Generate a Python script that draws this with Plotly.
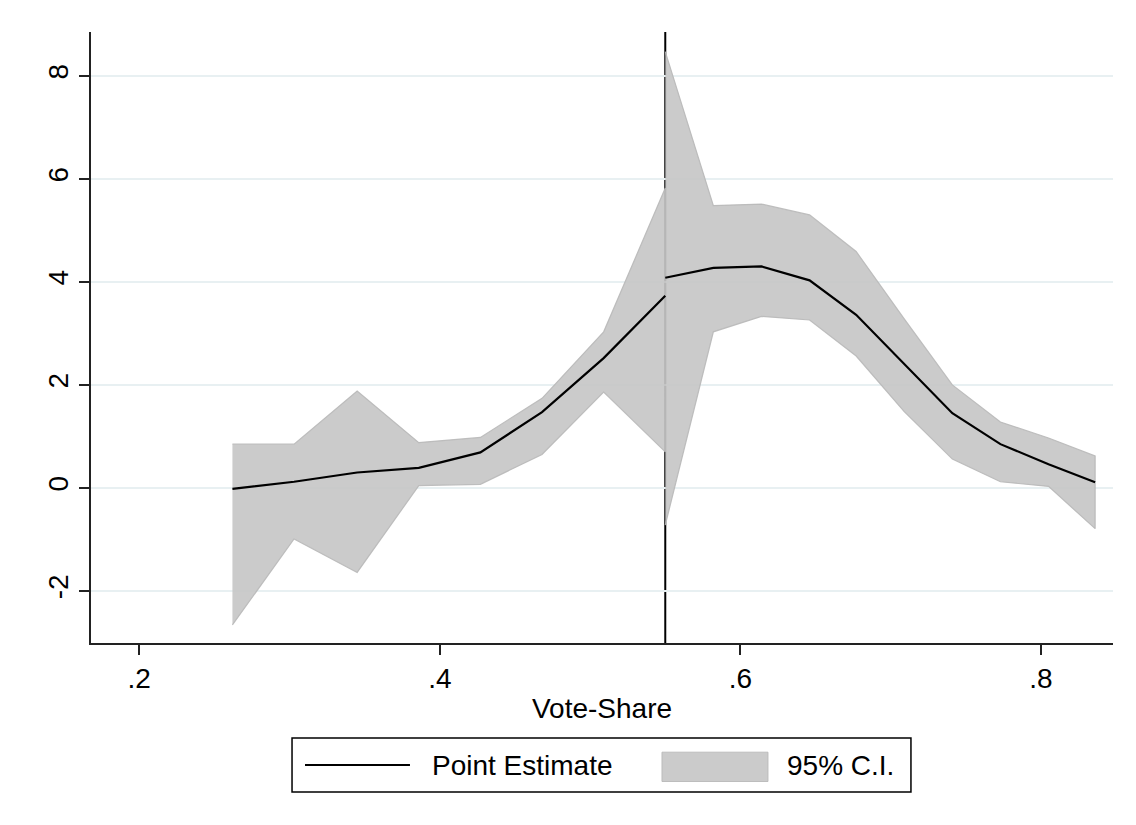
import plotly.graph_objects as go

# Vote-share bins below and above the 0.55 threshold
x_left = [0.262, 0.303, 0.345, 0.386, 0.427, 0.468, 0.509, 0.55]
est_left = [-0.02, 0.12, 0.30, 0.39, 0.69, 1.47, 2.52, 3.73]
hi_left = [0.85, 0.85, 1.88, 0.88, 0.98, 1.74, 3.03, 5.82]
lo_left = [-2.66, -0.99, -1.64, 0.045, 0.07, 0.65, 1.86, 0.70]

x_right = [0.55, 0.582, 0.614, 0.646, 0.677, 0.709, 0.741, 0.773, 0.805, 0.836]
est_right = [4.08, 4.27, 4.30, 4.03, 3.36, 2.41, 1.45, 0.85, 0.46, 0.11]
hi_right = [8.47, 5.48, 5.51, 5.30, 4.59, 3.28, 2.00, 1.28, 0.97, 0.62]
lo_right = [-0.72, 3.03, 3.33, 3.26, 2.56, 1.48, 0.56, 0.12, 0.03, -0.79]

threshold = 0.55

x_ticks = [0.2, 0.4, 0.6, 0.8]
x_ticktext = [".2", ".4", ".6", ".8"]
y_ticks = [-2, 0, 2, 4, 6, 8]
y_ticktext = ["-2", "0", "2", "4", "6", "8"]

legend_labels = ["Point Estimate", "95% C.I."]

FONT = "Liberation Sans, Arial, sans-serif"
BAND_FILL = "rgba(197,197,197,0.9)"
BAND_EDGE = "rgba(184,184,184,0.9)"

fig = go.Figure()

# confidence bands, one polygon on each side of the threshold
for xs, hi, lo in [(x_left, hi_left, lo_left), (x_right, hi_right, lo_right)]:
    fig.add_trace(go.Scatter(
        x=xs + xs[::-1], y=hi + lo[::-1],
        fill="toself", fillcolor=BAND_FILL,
        line=dict(color=BAND_EDGE, width=1.2),
        mode="lines", hoverinfo="skip", showlegend=False,
    ))

# point estimates
for xs, est in [(x_left, est_left), (x_right, est_right)]:
    fig.add_trace(go.Scatter(
        x=xs, y=est, mode="lines",
        line=dict(color="black", width=2.2),
        showlegend=False,
    ))

# threshold line, beneath the bands
fig.add_shape(type="line", xref="x", yref="y domain",
              x0=threshold, x1=threshold, y0=0, y1=1,
              line=dict(color="black", width=2), layer="below")

# legend drawn as a framed box below the axis title
fig.add_shape(type="rect", xref="paper", yref="paper",
              x0=0.1967, x1=0.8023, y0=-0.2439, y1=-0.1555,
              line=dict(color="black", width=1.5), fillcolor="white")
fig.add_shape(type="line", xref="paper", yref="paper",
              x0=0.2094, x1=0.3121, y0=-0.1997, y1=-0.1997,
              line=dict(color="black", width=2))
fig.add_shape(type="rect", xref="paper", yref="paper",
              x0=0.5587, x1=0.6624, y0=-0.2267, y1=-0.1787,
              line=dict(color=BAND_EDGE, width=1), fillcolor=BAND_FILL)
fig.add_annotation(xref="paper", yref="paper", x=0.3317, y=-0.1997,
                   xanchor="left", yanchor="middle", showarrow=False,
                   text=legend_labels[0], font=dict(size=28, color="black", family=FONT))
fig.add_annotation(xref="paper", yref="paper", x=0.6795, y=-0.1997,
                   xanchor="left", yanchor="middle", showarrow=False,
                   text=legend_labels[1], font=dict(size=28, color="black", family=FONT))

fig.update_layout(
    width=1136, height=825,
    margin=dict(l=91, r=23, t=32, b=182),
    paper_bgcolor="white", plot_bgcolor="white",
    font=dict(family=FONT, color="black", size=28),
    showlegend=False,
    xaxis=dict(
        range=[0.1679, 0.8479],
        tickvals=x_ticks, ticktext=x_ticktext,
        ticks="outside", ticklen=10, tickwidth=1.5, tickcolor="#222",
        showline=True, linecolor="#222", linewidth=1.5,
        showgrid=False, zeroline=False,
        tickfont=dict(size=28),
        title=dict(text="Vote-Share", font=dict(size=28), standoff=5),
    ),
    yaxis=dict(
        range=[-3.01, 8.85],
        tickvals=y_ticks, ticktext=y_ticktext, tickangle=-90,
        ticks="outside", ticklen=10, tickwidth=1.5, tickcolor="#222",
        showline=True, linecolor="#222", linewidth=1.5,
        showgrid=True, gridcolor="#e8f0f2", gridwidth=1.5,
        zeroline=False,
        tickfont=dict(size=28),
    ),
)

fig.write_html("out.html")
